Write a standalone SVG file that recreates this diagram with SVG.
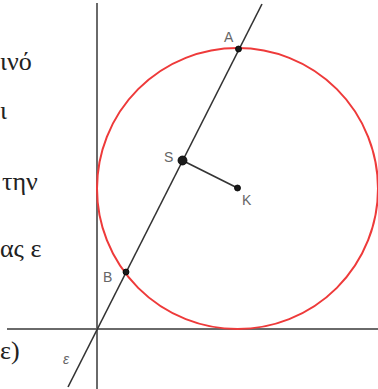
<svg xmlns="http://www.w3.org/2000/svg" width="378" height="389" viewBox="0 0 378 389">
<style>
.txt{font-family:"Liberation Serif","DejaVu Serif",serif;font-size:26px;fill:#222}
.lbl{font-family:"Liberation Sans",Arial,sans-serif;font-size:14px;fill:#666}
.axis{stroke:#6a6a6a;stroke-width:2;fill:none}
.ln{stroke:#333;stroke-width:1.6;fill:none}
.pt{fill:#1a1a1a;stroke:#000;stroke-width:0.8}
</style>
<rect width="378" height="389" fill="#fff"/>
<g id="text">
<text class="txt" x="0" y="70">ινό</text>
<text class="txt" x="0" y="119">ι</text>
<text class="txt" x="2" y="190">την</text>
<text class="txt" x="0" y="257">ας ε</text>
<text class="txt" x="0" y="359">ε)</text>
</g>
<g id="connectors">
<line class="axis" x1="97" y1="3" x2="97" y2="389"/>
<line class="axis" x1="7" y1="329" x2="378" y2="329"/>
<line class="ln" x1="262" y1="4" x2="68" y2="387"/>
<line class="ln" x1="182.5" y1="160.5" x2="237.5" y2="188" stroke-width="2"/>
</g>
<g id="circle">
<circle cx="237.5" cy="188.5" r="140.5" fill="none" stroke="#ee3a3a" stroke-width="2"/>
</g>
<g id="A"><circle class="pt" cx="238.5" cy="49" r="3"/><text class="lbl" x="224" y="42">A</text></g>
<g id="S"><circle class="pt" cx="182.5" cy="160.5" r="4.5"/><text class="lbl" x="164" y="162">S</text></g>
<g id="K"><circle class="pt" cx="237.5" cy="188" r="3"/><text class="lbl" x="242" y="205">K</text></g>
<g id="B"><circle class="pt" cx="126" cy="272" r="3"/><text class="lbl" x="103" y="282">B</text></g>
<g id="eps"><text class="lbl" x="63" y="364" font-size="15" font-style="italic">ε</text></g>
</svg>
